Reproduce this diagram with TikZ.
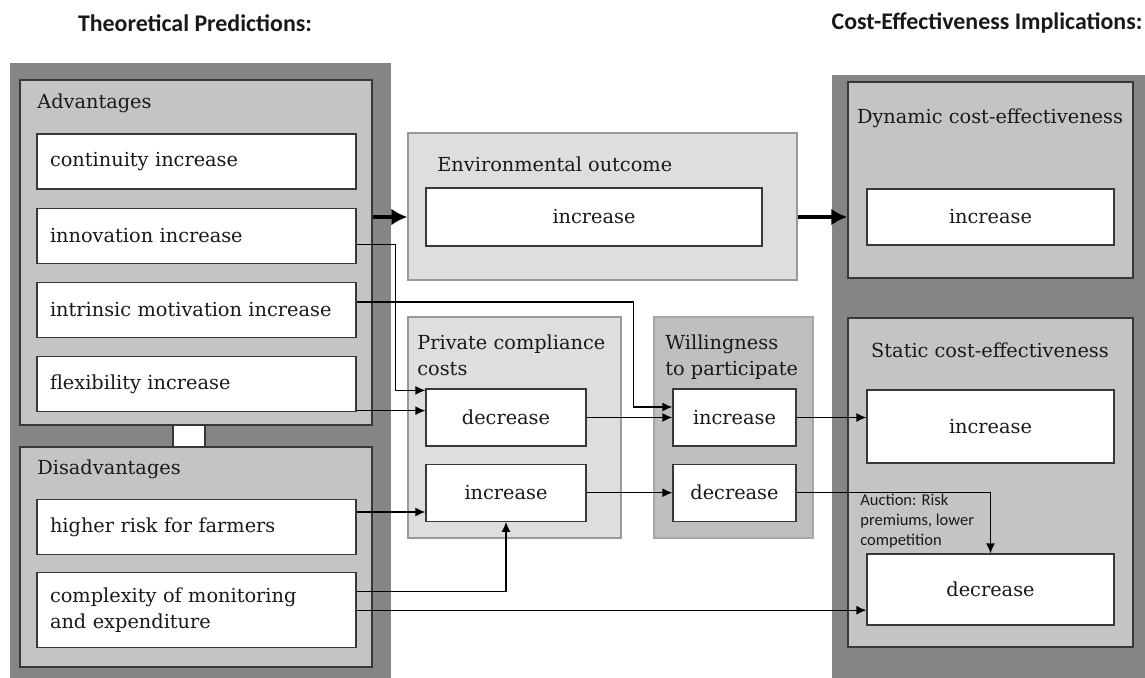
\documentclass[tikz,border=0pt]{standalone}
\usepackage{fontspec}
\setmainfont{DejaVu Serif}
\newfontfamily\notefont{Carlito}
\usetikzlibrary{arrows.meta,positioning}

\definecolor{shellgray}{gray}{0.52}
\definecolor{panelgray}{gray}{0.77}
\definecolor{palegray}{gray}{0.87}
\definecolor{wtpgray}{gray}{0.75}
\definecolor{linegray}{gray}{0.22}

\begin{document}
\begin{tikzpicture}[
    x=0.02cm, y=-0.02cm,
    node distance=0.36cm,
    every node/.style={font=\fontsize{11}{15.3}\selectfont, text=black!90},
    shell/.style={fill=shellgray, inner sep=0pt},
    panel/.style={draw=linegray, line width=0.9pt, fill=panelgray, inner sep=0pt},
    pale/.style={draw=gray!80, line width=0.8pt, fill=palegray, inner sep=0pt},
    item/.style={draw=linegray, line width=0.7pt, fill=white, align=left, inner xsep=0.26cm, text width=5.86cm, minimum height=1.1cm},
    result/.style={draw=linegray, line width=0.7pt, fill=white, align=center, inner sep=0pt, minimum height=1.14cm},
    heading/.style={font=\notefont\bfseries\fontsize{13.6}{15}\selectfont},
    caption/.style={anchor=west, inner sep=0pt},
    flow/.style={-{Latex[length=2mm,width=1.8mm]}, line width=0.8pt},
    bigflow/.style={-{Latex[length=3.2mm,width=3.4mm]}, line width=2.4pt}
]
\useasboundingbox (0,0) rectangle (1145,678);

% column headings
\node[heading] (lefthead) at (195,23) {Theoretical Predictions:};
\node[heading] (righthead) at (987,23) {Cost-Effectiveness Implications:};

% outer frames
\node[shell, minimum width=7.62cm, minimum height=12.3cm] (leftshell) at (200.5,370.5) {};
\node[shell, minimum width=6.26cm, minimum height=12.06cm] (rightshell) at (988.5,376.5) {};

% advantages / disadvantages
\node[panel, minimum width=7.04cm, minimum height=6.9cm] (adv) at (196,252.5) {};
\node[panel, minimum width=7.04cm, minimum height=4.4cm] (dis) at (196,557) {};
\node[fill=white, draw=linegray, line width=0.7pt, inner sep=0pt, minimum width=0.64cm, minimum height=0.44cm] (link) at (189,436) {};
\node[caption] (advlabel) at (37,103) {Advantages};
\node[caption] (dislabel) at (37,469) {Disadvantages};

\node[item] (cont) at (196.5,161.5) {continuity increase};
\node[item, below=of cont] (inno) {innovation increase};
\node[item, below=of inno] (intr) {intrinsic motivation increase};
\node[item, below=of intr] (flex) {flexibility increase};
\node[item] (risk) at (196.5,527) {higher risk for farmers};
\node[item, minimum height=1.5cm, below=0.34cm of risk] (cmpx) {complexity of monitoring\\and expenditure};

% environmental outcome
\node[pale, minimum width=7.78cm, minimum height=2.94cm] (env) at (602.5,206.5) {};
\node[caption] (envlabel) at (437,164) {Environmental outcome};
\node[result, minimum width=6.72cm, minimum height=1.16cm] (envinc) at (594,217) {increase};

% private compliance costs
\node[pale, minimum width=4.26cm, minimum height=4.42cm] (pcc) at (514.5,427.5) {};
\node[caption, anchor=north west, align=left] (pcclabel) at (417,334) {Private compliance\\costs};
\node[result, minimum width=3.2cm] (pccdec) at (506,417.5) {decrease};
\node[result, minimum width=3.2cm, below=0.34cm of pccdec] (pccinc) {increase};

% willingness to participate
\node[draw=gray!70, line width=0.8pt, fill=wtpgray, inner sep=0pt, minimum width=3.18cm, minimum height=4.42cm] (wtp) at (733.5,427.5) {};
\node[caption, anchor=north west, align=left] (wtplabel) at (665,334) {Willingness\\to participate};
\node[result, minimum width=2.46cm] (wtpinc) at (734.5,417.5) {increase};
\node[result, minimum width=2.46cm, below=0.34cm of wtpinc] (wtpdec) {decrease};

% cost-effectiveness
\node[panel, minimum width=5.7cm, minimum height=3.92cm] (dyn) at (990.5,180) {};
\node (dynlabel) at (990,118) {Dynamic cost-effectiveness};
\node[result, minimum width=4.94cm, minimum height=1.12cm] (dyninc) at (990.5,217) {increase};
\node[panel, minimum width=5.7cm, minimum height=6.58cm] (st) at (990.5,482.5) {};
\node (stlabel) at (990,350) {Static cost-effectiveness};
\node[result, minimum width=4.94cm, minimum height=1.46cm] (stinc) at (990.5,426.5) {increase};
\node[result, minimum width=4.94cm, minimum height=1.42cm] (stdec) at (990.5,589.5) {decrease};
\node[anchor=north west, align=left, inner sep=0pt, font=\notefont\fontsize{9.4}{11.2}\selectfont] (auction) at (860,494) {Auction: Risk\\premiums, lower\\competition};

% connectors
\coordinate (innoout) at ([yshift=-0.17cm]inno.east);
\coordinate (innoin) at ([yshift=-0.04cm]pccdec.north west);
\coordinate (flexout) at ([yshift=-0.53cm]flex.east);
\coordinate (introut) at ([yshift=0.16cm]intr.east);
\coordinate (intrin) at ([yshift=0.21cm]wtpinc.west);
\coordinate (riskout) at ([yshift=0.3cm]risk.east);
\coordinate (cmpxup) at ([yshift=0.37cm]cmpx.east);

\draw[bigflow] (adv.east |- envinc.west) -- (env.west |- envinc.west);
\draw[bigflow] (env.east |- envinc.west) -- (dyn.west |- envinc.west);
\draw[flow] (innoout) -- ++(39,0) |- (innoin);
\draw[flow] (flexout) -- (flexout -| pccdec.west);
\draw[flow] (introut) -- ++(277,0) |- (intrin);
\draw[flow] (pccdec.east) -- (pccdec.east -| wtpinc.west);
\draw[flow] (wtpinc.east) -- (wtpinc.east -| stinc.west);
\draw[flow] (riskout) -- (riskout -| pccinc.west);
\draw[flow] (pccinc.east) -- (pccinc.east -| wtpdec.west);
\draw[flow] (cmpxup) -| (pccinc.south);
\draw[flow] (cmpx.east) -- (cmpx.east -| stdec.west);
\draw[flow] (wtpdec.east) -| (stdec.north);
\end{tikzpicture}
\end{document}
